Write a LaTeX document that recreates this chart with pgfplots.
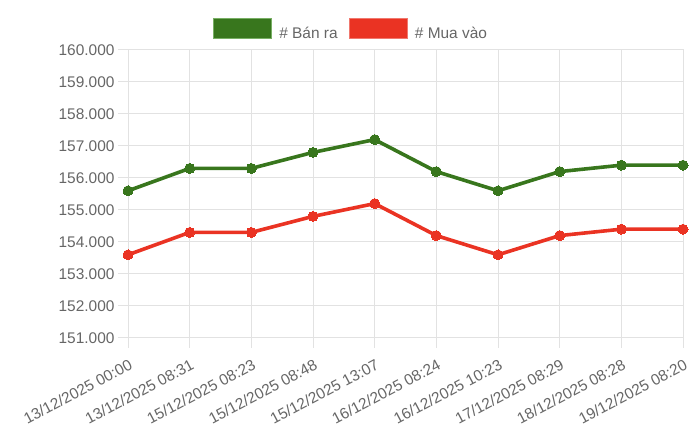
\documentclass[border=0pt]{standalone}
\usepackage{fontspec}
\setmainfont{Liberation Sans}
\usepackage{pgfplots}
\pgfplotsset{compat=1.18}
\definecolor{gr}{RGB}{56,118,29}
\definecolor{grb}{RGB}{120,175,100}
\definecolor{rd}{RGB}{234,51,35}
\definecolor{rdb}{RGB}{240,120,110}
\definecolor{txt}{RGB}{102,102,102}
\definecolor{gridc}{RGB}{226,226,226}
\begin{document}
\begin{tikzpicture}[x=1bp,y=1bp]
\useasboundingbox (0,0) rectangle (700,433);
\begin{axis}[
  at={(128bp,95bp)}, anchor=south west,
  width=555bp, height=288bp, scale only axis,
  xmin=0, xmax=9, ymin=151000, ymax=160000,
  xtick={0,...,9},
  xticklabels={13/12/2025 00:00,13/12/2025 08:31,15/12/2025 08:23,15/12/2025 08:48,15/12/2025 13:07,16/12/2025 08:24,16/12/2025 10:23,17/12/2025 08:29,18/12/2025 08:28,19/12/2025 08:20},
  ytick={151000,152000,...,160000},
  scaled y ticks=false,
  /pgf/number format/assume math mode=true,
  yticklabel style={/pgf/number format/fixed, /pgf/number format/precision=0, /pgf/number format/1000 sep={.}},
  tick label style={font=\fontsize{15.5}{18}\selectfont, text=txt},
  xticklabel style={yshift=-15bp, xshift=3bp, rotate=28, anchor=east, inner sep=0pt},
  grid=major,
  grid style={draw=gridc, line width=1bp},
  axis line style={draw=gridc, line width=1bp},
  tick style={draw=gridc, line width=1bp},
  tick align=outside, major tick length=10bp,
  xtick pos=bottom, ytick pos=left,
  legend columns=2,
  legend style={at={(0.4,1.076)}, anchor=center, draw=none, fill=none,
    font=\fontsize{15.5}{18}\selectfont, text=txt,
    /tikz/every even column/.append style={column sep=11bp},
    nodes={inner sep=0pt, text depth=0pt}},
  legend cell align=left,
]
\addplot[gr, line width=3.6bp, mark=*, mark size=5bp, mark options={fill=gr, draw=gr, line width=0pt},
  legend image code/.code={\fill[gr, draw=grb, line width=1bp] (0bp,-5bp) rectangle (58bp,15bp); \path (64bp,0);}]
  coordinates {(0,155600) (1,156300) (2,156300) (3,156800) (4,157200) (5,156200) (6,155600) (7,156200) (8,156400) (9,156400)};
\addlegendentry{\# Bán ra}
\addplot[rd, line width=3.6bp, mark=*, mark size=5bp, mark options={fill=rd, draw=rd, line width=0pt},
  legend image code/.code={\fill[rd, draw=rdb, line width=1bp] (0bp,-5bp) rectangle (58bp,15bp); \path (64bp,0);}]
  coordinates {(0,153600) (1,154300) (2,154300) (3,154800) (4,155200) (5,154200) (6,153600) (7,154200) (8,154400) (9,154400)};
\addlegendentry{\# Mua vào}
\end{axis}
\end{tikzpicture}
\end{document}
